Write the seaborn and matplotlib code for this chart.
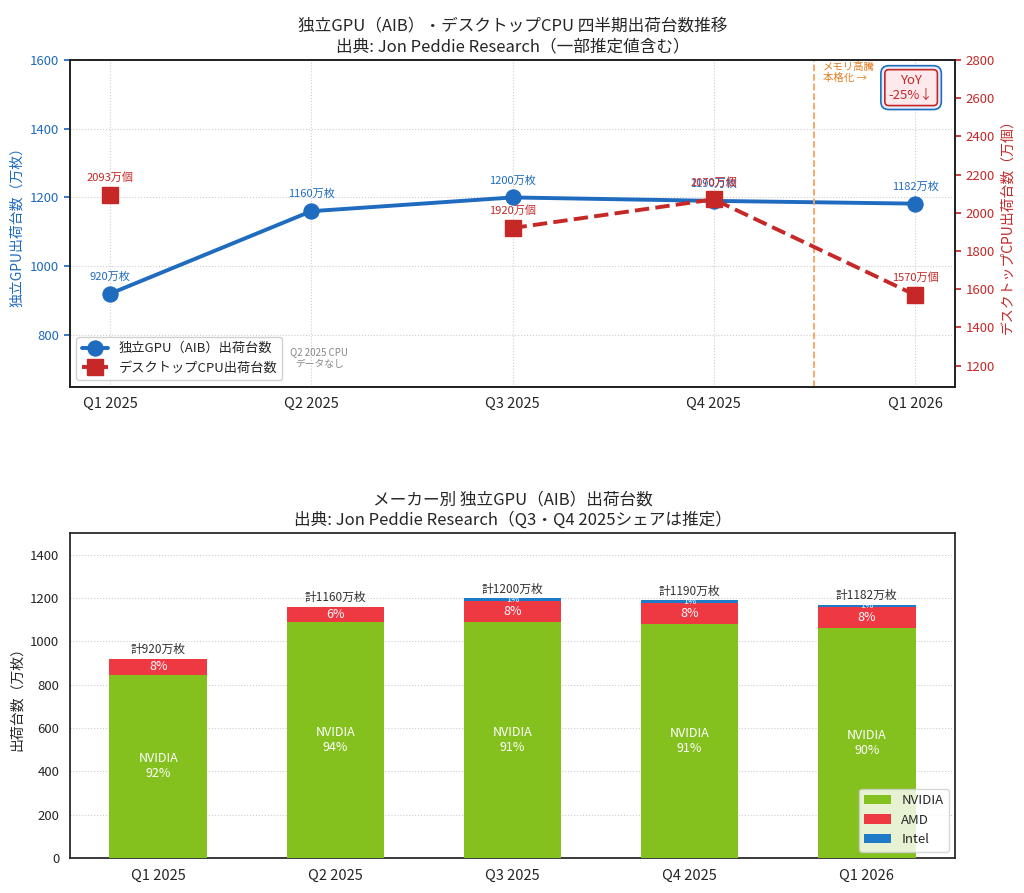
import numpy as np
import pandas as pd
import seaborn as sns
import matplotlib.pyplot as plt

quarters = ['Q1 2025', 'Q2 2025', 'Q3 2025', 'Q4 2025', 'Q1 2026']
gpu_total = [920, 1160, 1200, 1190, 1182]          # 万枚
cpu_total = [2093, np.nan, 1920, 2070, 1570]        # 万個
nvidia_share = [92, 94, 91, 91, 90]
amd_share = [8, 6, 8, 8, 8]
intel_share = [0, 0, 1, 1, 1]

sns.set_theme(style='white')
plt.rcParams['font.family'] = ['Noto Sans CJK JP', 'DejaVu Sans']
plt.rcParams['axes.unicode_minus'] = False

c_gpu = '#1E6BBF'
c_cpu = '#C62828'
c_nv = '#84C11F'
c_amd = '#EE3842'
c_intel = '#1F7BC8'

fig = plt.figure(figsize=(10.24, 8.93), dpi=100)
ax = fig.add_axes([0.068, 0.567, 0.865, 0.366])
ax2 = ax.twinx()

x = np.arange(len(quarters))
df_gpu = pd.DataFrame({'x': x, 'gpu': gpu_total})

# 上段: 出荷台数推移
sns.lineplot(data=df_gpu, x='x', y='gpu', ax=ax, color=c_gpu, linewidth=2.8,
             marker='o', markersize=11, markeredgecolor=c_gpu, label='独立GPU（AIB）出荷台数',
             legend=False)
ax2.plot(x, cpu_total, color=c_cpu, linewidth=2.8, linestyle='--',
         marker='s', markersize=11, label='デスクトップCPU出荷台数')

for xi, v in zip(x, gpu_total):
    ax.annotate(f'{v}万枚', (xi, v), xytext=(0, 10), textcoords='offset points',
                ha='center', fontsize=8, color=c_gpu)
for xi, v in zip(x, cpu_total):
    if not np.isnan(v):
        ax2.annotate(f'{int(v)}万個', (xi, v), xytext=(0, 10), textcoords='offset points',
                     ha='center', fontsize=8, color=c_cpu)

ax.set_xlim(-0.2, 4.2)
ax.set_ylim(650, 1600)
ax2.set_ylim(1090, 2800)
ax.set_yticks([800, 1000, 1200, 1400, 1600])
ax2.set_yticks(np.arange(1200, 2801, 200))
ax.set_xticks(x)
ax.set_xticklabels(quarters, fontsize=10.5)
ax.set_xlabel('')
ax.set_ylabel('独立GPU出荷台数（万枚）', color=c_gpu, fontsize=10)
ax2.set_ylabel('デスクトップCPU出荷台数（万個）', color=c_cpu, fontsize=10)
ax.tick_params(axis='y', colors=c_gpu, labelsize=9.5, length=4)
ax2.tick_params(axis='y', colors=c_cpu, labelsize=9.5, length=4)
ax.tick_params(axis='x', length=4)
ax.grid(True, linestyle=':', color='#cccccc', linewidth=0.8)
for a in (ax, ax2):
    for s in a.spines.values():
        s.set_color('#222222')

ax.axvline(3.5, color='#F4A460', linestyle='--', linewidth=1.3)
ax2.text(3.54, 2790, 'メモリ高騰\n本格化 →', fontsize=7.5, color='#E07B20',
         ha='left', va='top', linespacing=1.1)
ax2.text(0.95, 0.915, 'YoY\n-25%↓', transform=ax.transAxes, fontsize=9.5, color='#C62828',
         ha='center', va='center', zorder=4,
         bbox=dict(boxstyle='round,pad=0.6', facecolor='#E6F0FA', edgecolor=c_gpu, linewidth=1.2))
ax2.text(0.95, 0.915, 'YoY\n-25%↓', transform=ax.transAxes, fontsize=9.5, color='#C62828',
         ha='center', va='center', zorder=5,
         bbox=dict(boxstyle='round,pad=0.3', facecolor='#FDE8EC', edgecolor=c_cpu, linewidth=1.2))
ax2.text(1.04, 1240, 'Q2 2025 CPU\nデータなし', fontsize=7, color='#888888',
         ha='center', va='center', zorder=1)

h1, l1 = ax.get_legend_handles_labels()
h2, l2 = ax2.get_legend_handles_labels()
leg = ax2.legend(h1 + h2, l1 + l2, loc='lower left', fontsize=9.5, framealpha=0.9)
leg.set_zorder(10)
ax.set_title('独立GPU（AIB）・デスクトップCPU 四半期出荷台数推移\n出典: Jon Peddie Research（一部推定値含む）',
             fontsize=12, linespacing=1.2)

# 下段: メーカー別
bx = fig.add_axes([0.068, 0.039, 0.865, 0.364])
nv = np.array(gpu_total) * np.array(nvidia_share) / 100
amd = np.array(gpu_total) * np.array(amd_share) / 100
intel = np.array(gpu_total) * np.array(intel_share) / 100
w = 0.55
bx.bar(x, nv, width=w, color=c_nv, label='NVIDIA', zorder=3, linewidth=0)
bx.bar(x, amd, width=w, bottom=nv, color=c_amd, label='AMD', zorder=3, linewidth=0)
bx.bar(x, intel, width=w, bottom=nv + amd, color=c_intel, label='Intel', zorder=3, linewidth=0)

for i in range(len(x)):
    bx.text(x[i], nv[i] / 2, f'NVIDIA\n{nvidia_share[i]}%', ha='center', va='center',
            color='white', fontsize=9, zorder=4)
    bx.text(x[i], nv[i] + amd[i] / 2, f'{amd_share[i]}%', ha='center', va='center',
            color='white', fontsize=9, zorder=4)
    if intel_share[i] > 0:
        bx.text(x[i], nv[i] + amd[i] + intel[i] / 2, f'{intel_share[i]}%', ha='center',
                va='center', color='white', fontsize=6.5, zorder=4)
    bx.text(x[i], nv[i] + amd[i] + intel[i] + 12, f'計{gpu_total[i]}万枚', ha='center',
            va='bottom', color='#333333', fontsize=8.5, zorder=4)

bx.set_xlim(-0.5, 4.5)
bx.set_ylim(0, 1500)
bx.set_yticks(np.arange(0, 1401, 200))
bx.set_xticks(x)
bx.set_xticklabels(quarters, fontsize=10.5)
bx.tick_params(axis='y', labelsize=9.5, length=4)
bx.tick_params(axis='x', length=4)
bx.set_ylabel('出荷台数（万枚）', fontsize=10)
bx.grid(True, axis='y', linestyle=':', color='#cccccc', linewidth=0.8, zorder=0)
for s in bx.spines.values():
    s.set_color('#222222')
bx.legend(loc='lower right', fontsize=9.5)
bx.set_title('メーカー別 独立GPU（AIB）出荷台数\n出典: Jon Peddie Research（Q3・Q4 2025シェアは推定）',
             fontsize=12, linespacing=1.2)

fig.savefig('out.png', dpi=100)
